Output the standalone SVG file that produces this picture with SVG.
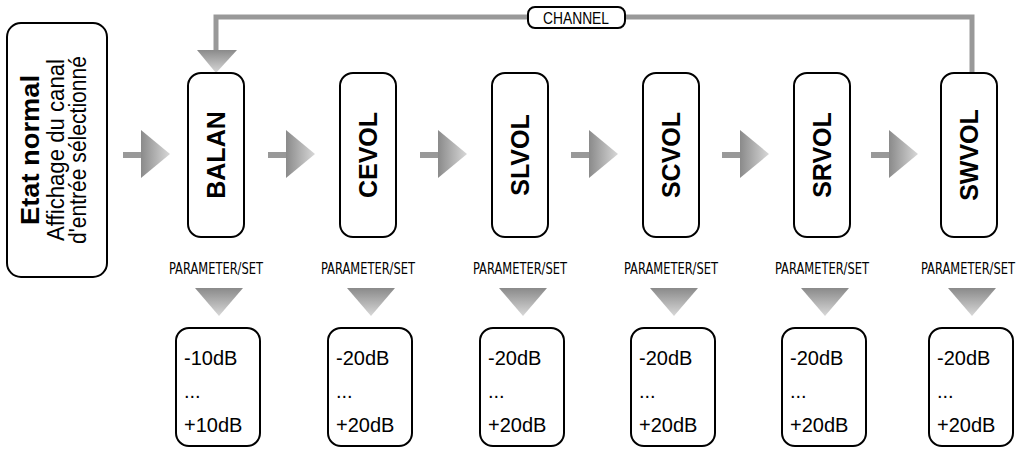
<svg xmlns="http://www.w3.org/2000/svg" width="1023" height="451" viewBox="0 0 1023 451">
<defs>
<linearGradient id="gr" x1="0" y1="0" x2="1" y2="0"><stop offset="0" stop-color="#8a8a8a"/><stop offset="1" stop-color="#d8d8d8"/></linearGradient>
<linearGradient id="gd" x1="0" y1="0" x2="0" y2="1"><stop offset="0" stop-color="#8a8a8a"/><stop offset="1" stop-color="#d8d8d8"/></linearGradient>
<style>
.box{fill:#fff;stroke:#000;stroke-width:2}
.lbl{font-family:"Liberation Sans",sans-serif;font-weight:bold;font-size:25px;text-anchor:middle}
.ps{font-family:"DejaVu Sans Condensed","Liberation Sans",sans-serif;font-size:15px;text-anchor:middle}
.val{font-family:"Liberation Sans",sans-serif;font-size:20px}
.gl{fill:none;stroke:#999;stroke-width:5}
</style>
</defs>
<g id="connectors">
<path class="gl" d="M216 58 V17 H972 V73"/>
<polygon points="197,50 237,50 216,73" fill="url(#gd)"/>
<rect x="528" y="7" width="97" height="21" rx="7" class="box" stroke-width="1.5"/>
<text x="576" y="24" font-family="Liberation Sans,sans-serif" font-size="16" text-anchor="middle" textLength="66" lengthAdjust="spacingAndGlyphs">CHANNEL</text>
<g id="harrows">
<g transform="translate(123,130)"><rect x="0" y="22" width="22" height="6" fill="#999"/><polygon points="18,0 47,24 18,48" fill="url(#gr)"/></g>
<g transform="translate(268,130)"><rect x="0" y="22" width="22" height="6" fill="#999"/><polygon points="18,0 47,24 18,48" fill="url(#gr)"/></g>
<g transform="translate(420,130)"><rect x="0" y="22" width="22" height="6" fill="#999"/><polygon points="18,0 47,24 18,48" fill="url(#gr)"/></g>
<g transform="translate(571,130)"><rect x="0" y="22" width="22" height="6" fill="#999"/><polygon points="18,0 47,24 18,48" fill="url(#gr)"/></g>
<g transform="translate(722,130)"><rect x="0" y="22" width="22" height="6" fill="#999"/><polygon points="18,0 47,24 18,48" fill="url(#gr)"/></g>
<g transform="translate(871,130)"><rect x="0" y="22" width="22" height="6" fill="#999"/><polygon points="18,0 47,24 18,48" fill="url(#gr)"/></g>
</g>
</g>
<g id="etat">
<rect x="7" y="23" width="100" height="254" rx="14" class="box"/>
<g transform="translate(0,150) rotate(-90)" font-family="Liberation Sans,sans-serif" text-anchor="middle">
<text x="0" y="39" font-size="26" font-weight="bold" textLength="150" lengthAdjust="spacingAndGlyphs">Etat normal</text>
<text x="0" y="64" font-size="23" textLength="182" lengthAdjust="spacingAndGlyphs">Affichage du canal</text>
<text x="0" y="86" font-size="23" textLength="188" lengthAdjust="spacingAndGlyphs">d'entrée sélectionné</text>
</g>
</g>
<g id="balan"><rect x="188" y="73" width="56" height="164" rx="13" class="box"/><text class="lbl" transform="translate(225,155) rotate(-90)">BALAN</text>
<text class="ps" x="216" y="274" textLength="94" lengthAdjust="spacingAndGlyphs">PARAMETER/SET</text><polygon points="195,288 243,288 219,316" fill="url(#gd)"/>
<rect x="176" y="328" width="84" height="118" rx="13" class="box"/><text class="val" x="184" y="365">-10dB</text><text class="val" x="184" y="398">...</text><text class="val" x="184" y="432">+10dB</text></g>
<g id="cevol"><rect x="340" y="73" width="56" height="164" rx="13" class="box"/><text class="lbl" transform="translate(377,155) rotate(-90)">CEVOL</text>
<text class="ps" x="368" y="274" textLength="94" lengthAdjust="spacingAndGlyphs">PARAMETER/SET</text><polygon points="347,288 395,288 371,316" fill="url(#gd)"/>
<rect x="328" y="328" width="84" height="118" rx="13" class="box"/><text class="val" x="336" y="365">-20dB</text><text class="val" x="336" y="398">...</text><text class="val" x="336" y="432">+20dB</text></g>
<g id="slvol"><rect x="492" y="73" width="56" height="164" rx="13" class="box"/><text class="lbl" transform="translate(529,155) rotate(-90)">SLVOL</text>
<text class="ps" x="520" y="274" textLength="94" lengthAdjust="spacingAndGlyphs">PARAMETER/SET</text><polygon points="499,288 547,288 523,316" fill="url(#gd)"/>
<rect x="480" y="328" width="84" height="118" rx="13" class="box"/><text class="val" x="488" y="365">-20dB</text><text class="val" x="488" y="398">...</text><text class="val" x="488" y="432">+20dB</text></g>
<g id="scvol"><rect x="643" y="73" width="56" height="164" rx="13" class="box"/><text class="lbl" transform="translate(680,155) rotate(-90)">SCVOL</text>
<text class="ps" x="671" y="274" textLength="94" lengthAdjust="spacingAndGlyphs">PARAMETER/SET</text><polygon points="650,288 698,288 674,316" fill="url(#gd)"/>
<rect x="631" y="328" width="84" height="118" rx="13" class="box"/><text class="val" x="639" y="365">-20dB</text><text class="val" x="639" y="398">...</text><text class="val" x="639" y="432">+20dB</text></g>
<g id="srvol"><rect x="794" y="73" width="56" height="164" rx="13" class="box"/><text class="lbl" transform="translate(831,155) rotate(-90)">SRVOL</text>
<text class="ps" x="822" y="274" textLength="94" lengthAdjust="spacingAndGlyphs">PARAMETER/SET</text><polygon points="801,288 849,288 825,316" fill="url(#gd)"/>
<rect x="782" y="328" width="84" height="118" rx="13" class="box"/><text class="val" x="790" y="365">-20dB</text><text class="val" x="790" y="398">...</text><text class="val" x="790" y="432">+20dB</text></g>
<g id="swvol"><rect x="941" y="73" width="56" height="164" rx="13" class="box"/><text class="lbl" transform="translate(978,155) rotate(-90)">SWVOL</text>
<text class="ps" x="968" y="274" textLength="94" lengthAdjust="spacingAndGlyphs">PARAMETER/SET</text><polygon points="948,288 996,288 972,316" fill="url(#gd)"/>
<rect x="929" y="328" width="84" height="118" rx="13" class="box"/><text class="val" x="937" y="365">-20dB</text><text class="val" x="937" y="398">...</text><text class="val" x="937" y="432">+20dB</text></g>
</svg>
